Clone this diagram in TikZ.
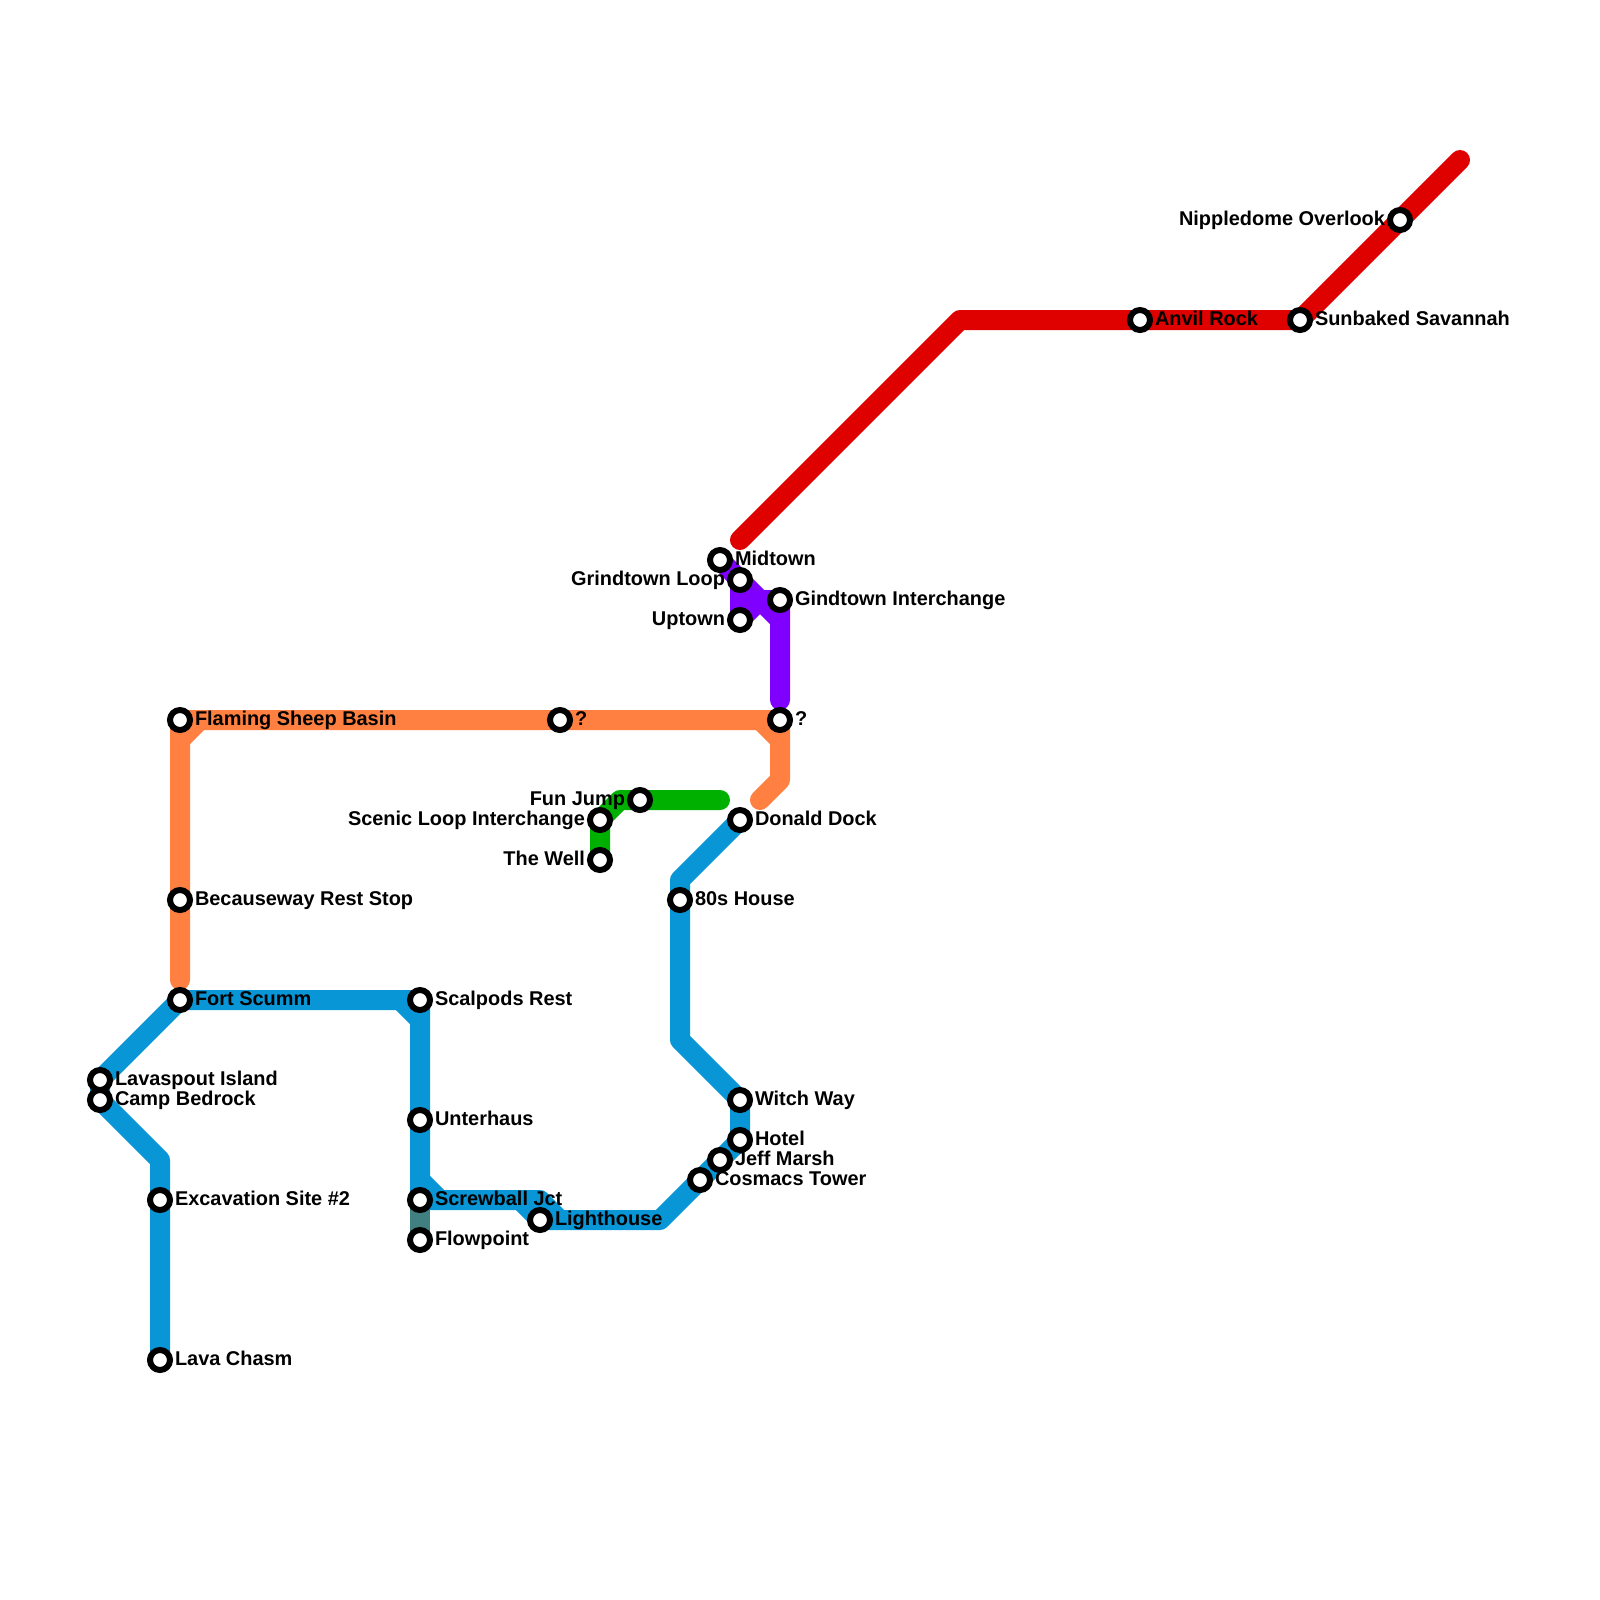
\documentclass[tikz,border=0pt]{standalone}
\usepackage{fontspec}
\setmainfont{Liberation Sans}
\usepackage{xcolor}
\usepackage{tikz}
\usetikzlibrary{positioning,backgrounds}
\definecolor{lineblue}{HTML}{0896D7}
\definecolor{lineorange}{HTML}{FF8040}
\definecolor{linered}{HTML}{DF0000}
\definecolor{linepurple}{HTML}{8000FF}
\definecolor{linegreen}{HTML}{00B000}
\definecolor{lineteal}{HTML}{408080}

\begin{document}
\begin{tikzpicture}[
    x=0.2cm, y=-0.2cm,
    node distance=0.013cm,
    stn/.style={circle, draw=black, fill=white, line width=0.06cm, minimum size=0.2cm, inner sep=0pt},
    tag/.style={inner sep=0pt, text height=0.145cm, text depth=0.045cm, font=\fontsize{5.67pt}{6.5pt}\selectfont\bfseries},
    route/.style={line width=0.2cm, line cap=round, line join=round}
]
    \useasboundingbox (0,0) rectangle (80,80);

    % stations
    \node [stn] (lavachasm) at (8,68) {};
    \node [stn] (excavation) at (8,60) {};
    \node [stn] (camp) at (5,55) {};
    \node [stn] (lavaspout) at (5,54) {};
    \node [stn] (fort) at (9,50) {};
    \node [stn] (because) at (9,45) {};
    \node [stn] (flaming) at (9,36) {};
    \node [stn] (scalpods) at (21,50) {};
    \node [stn] (unterhaus) at (21,56) {};
    \node [stn] (screwball) at (21,60) {};
    \node [stn] (flowpoint) at (21,62) {};
    \node [stn] (lighthouse) at (27,61) {};
    \node [stn] (cosmacs) at (35,59) {};
    \node [stn] (jeff) at (36,58) {};
    \node [stn] (hotel) at (37,57) {};
    \node [stn] (witch) at (37,55) {};
    \node [stn] (eighties) at (34,45) {};
    \node [stn] (donald) at (37,41) {};
    \node [stn] (well) at (30,43) {};
    \node [stn] (scenic) at (30,41) {};
    \node [stn] (funjump) at (32,40) {};
    \node [stn] (mark) at (28,36) {};
    \node [stn] (markb) at (39,36) {};
    \node [stn] (uptown) at (37,31) {};
    \node [stn] (gindtown) at (39,30) {};
    \node [stn] (grindloop) at (37,29) {};
    \node [stn] (midtown) at (36,28) {};
    \node [stn] (anvil) at (57,16) {};
    \node [stn] (sunbaked) at (65,16) {};
    \node [stn] (nipple) at (70,11) {};

    % bends and free ends
    \coordinate (b1) at (8,58);
    \coordinate (b2) at (20,50);
    \coordinate (b3) at (21,51);
    \coordinate (b4) at (21,59);
    \coordinate (b5) at (22,60);
    \coordinate (b6) at (26,60);
    \coordinate (b7) at (27,60);
    \coordinate (b8) at (28,61);
    \coordinate (b9) at (33,61);
    \coordinate (b10) at (34,52);
    \coordinate (b11) at (34,44);
    \coordinate (o1) at (9,49);
    \coordinate (o2) at (9,37);
    \coordinate (o3) at (10,36);
    \coordinate (o4) at (38,36);
    \coordinate (o5) at (39,37);
    \coordinate (o6) at (39,39);
    \coordinate (o7) at (38,40);
    \coordinate (g1) at (31,40);
    \coordinate (g2) at (36,40);
    \coordinate (p1) at (38,30);
    \coordinate (p2) at (39,31);
    \coordinate (p3) at (39,35);
    \coordinate (r1) at (37,27);
    \coordinate (r2) at (48,16);
    \coordinate (r3) at (73,8);

    % lines
    \begin{scope}[on background layer]
    \draw [route, lineteal] (screwball.center) -- (flowpoint.center);
    \draw [route, lineorange] (o1) -- (flaming.center) -- (markb.center) -- (o6) -- (o7);
    \draw [route, lineorange] (o2) -- (o3);
    \draw [route, lineorange] (o4) -- (o5);
    \draw [route, linegreen] (well.center) -- (scenic.center) -- (g1) -- (g2);
    \draw [route, linepurple] (midtown.center) -- (grindloop.center) -- (p2) -- (p3);
    \draw [route, linepurple] (grindloop.center) -- (uptown.center) -- (p1) -- (gindtown.center) -- (p2);
    \draw [route, linered] (r1) -- (r2) -- (sunbaked.center) -- (r3);
    \draw [route, lineblue] (lavachasm.center) -- (b1) -- (camp.center) -- (lavaspout.center) -- (fort.center) -- (scalpods.center) -- (b3) -- (unterhaus.center) -- (screwball.center) -- (b5) -- (b7) -- (b8);
    \draw [route, lineblue] (b2) -- (b3);
    \draw [route, lineblue] (b4) -- (b5);
    \draw [route, lineblue] (b6) -- (lighthouse.center) -- (b9) -- (cosmacs.center) -- (hotel.center) -- (witch.center) -- (b10) -- (b11) -- (donald.center);
    \end{scope}

    % labels
    \node [tag, right=of lavachasm] (lavachasmT) {Lava Chasm};
    \node [tag, right=of excavation] (excavationT) {Excavation Site \#2};
    \node [tag, right=of camp] (campT) {Camp Bedrock};
    \node [tag, right=of lavaspout] (lavaspoutT) {Lavaspout Island};
    \node [tag, right=of fort] (fortT) {Fort Scumm};
    \node [tag, right=of because] (becauseT) {Becauseway Rest Stop};
    \node [tag, right=of flaming] (flamingT) {Flaming Sheep Basin};
    \node [tag, right=of scalpods] (scalpodsT) {Scalpods Rest};
    \node [tag, right=of unterhaus] (unterhausT) {Unterhaus};
    \node [tag, right=of screwball] (screwballT) {Screwball Jct};
    \node [tag, right=of flowpoint] (flowpointT) {Flowpoint};
    \node [tag, right=of lighthouse] (lighthouseT) {Lighthouse};
    \node [tag, right=of cosmacs] (cosmacsT) {Cosmacs Tower};
    \node [tag, right=of jeff] (jeffT) {Jeff Marsh};
    \node [tag, right=of hotel] (hotelT) {Hotel};
    \node [tag, right=of witch] (witchT) {Witch Way};
    \node [tag, right=of eighties] (eightiesT) {80s House};
    \node [tag, right=of donald] (donaldT) {Donald Dock};
    \node [tag, left=of well] (wellT) {The Well};
    \node [tag, left=of scenic] (scenicT) {Scenic Loop Interchange};
    \node [tag, left=of funjump] (funjumpT) {Fun Jump};
    \node [tag, right=of mark] (markT) {?};
    \node [tag, right=of markb] (markbT) {?};
    \node [tag, left=of uptown] (uptownT) {Uptown};
    \node [tag, right=of gindtown] (gindtownT) {Gindtown Interchange};
    \node [tag, left=of grindloop] (grindloopT) {Grindtown Loop};
    \node [tag, right=of midtown] (midtownT) {Midtown};
    \node [tag, right=of anvil] (anvilT) {Anvil Rock};
    \node [tag, right=of sunbaked] (sunbakedT) {Sunbaked Savannah};
    \node [tag, left=of nipple] (nippleT) {Nippledome Overlook};
\end{tikzpicture}
\end{document}
